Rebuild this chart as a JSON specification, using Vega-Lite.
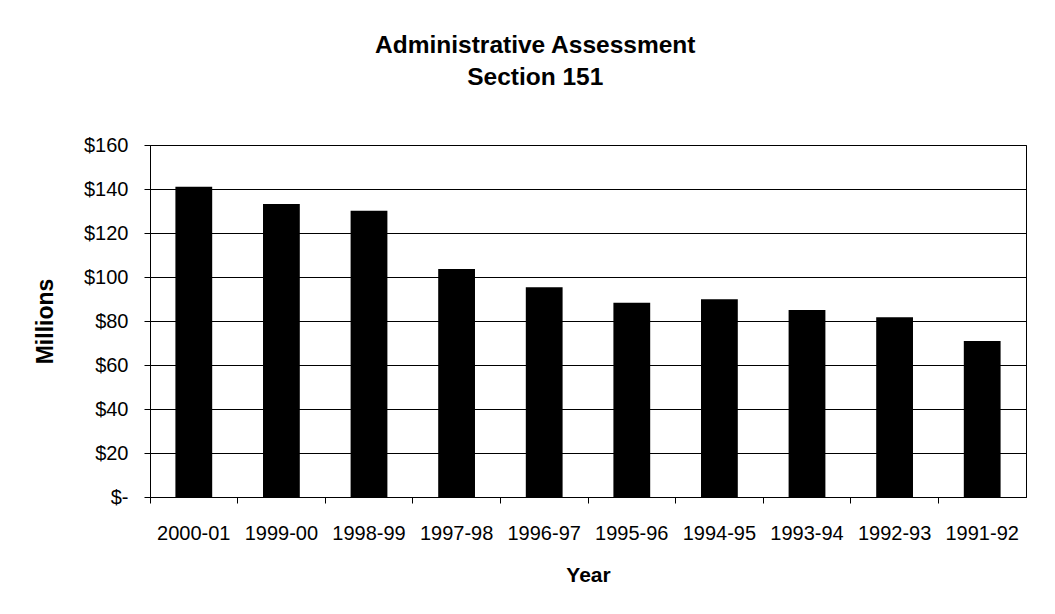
{
  "$schema": "https://vega.github.io/schema/vega-lite/v6.json",
  "width": 876,
  "height": 352,
  "autosize": {"type": "none"},
  "padding": {"left": 150, "top": 145, "right": 29, "bottom": 117},
  "background": "white",
  "title": {
    "text": ["Administrative Assessment", "Section 151"],
    "font": "Liberation Sans",
    "fontSize": 24.5,
    "fontWeight": "bold",
    "color": "black",
    "anchor": "middle",
    "frame": "bounds",
    "lineHeight": 32,
    "offset": 45,
    "dx": 5
  },
  "data": {
    "values": [
      {"Year": "2000-01", "Millions": 141.0},
      {"Year": "1999-00", "Millions": 133.2},
      {"Year": "1998-99", "Millions": 130.1},
      {"Year": "1997-98", "Millions": 103.6},
      {"Year": "1996-97", "Millions": 95.3},
      {"Year": "1995-96", "Millions": 88.3},
      {"Year": "1994-95", "Millions": 89.9},
      {"Year": "1993-94", "Millions": 85.0},
      {"Year": "1992-93", "Millions": 81.7},
      {"Year": "1991-92", "Millions": 70.9}
    ]
  },
  "mark": {"type": "bar", "color": "black", "width": {"band": 0.42}},
  "encoding": {
    "x": {
      "field": "Year",
      "type": "nominal",
      "sort": null,
      "scale": {"paddingInner": 0, "paddingOuter": 0},
      "axis": {
        "title": "Year",
        "labelAngle": 0,
        "bandPosition": 0,
        "tickSize": 6,
        "labelPadding": 20,
        "titlePadding": 21,
        "titleFontSize": 21,
        "grid": false
      }
    },
    "y": {
      "field": "Millions",
      "type": "quantitative",
      "scale": {"domain": [0, 160], "nice": false},
      "axis": {
        "title": "Millions",
        "values": [0, 20, 40, 60, 80, 100, 120, 140, 160],
        "labelExpr": "datum.value == 0 ? '$-' : '$' + datum.value",
        "tickSize": 6,
        "labelPadding": 16,
        "titlePadding": 26,
        "titleFontSize": 23,
        "grid": true
      }
    }
  },
  "config": {
    "font": "Liberation Sans",
    "view": {"stroke": "black", "strokeWidth": 1},
    "axis": {
      "domainColor": "black",
      "tickColor": "black",
      "gridColor": "black",
      "gridOpacity": 1,
      "labelColor": "black",
      "labelFont": "Liberation Sans",
      "labelFontSize": 20,
      "titleColor": "black",
      "titleFont": "Liberation Sans",
      "titleFontWeight": "bold"
    }
  }
}
